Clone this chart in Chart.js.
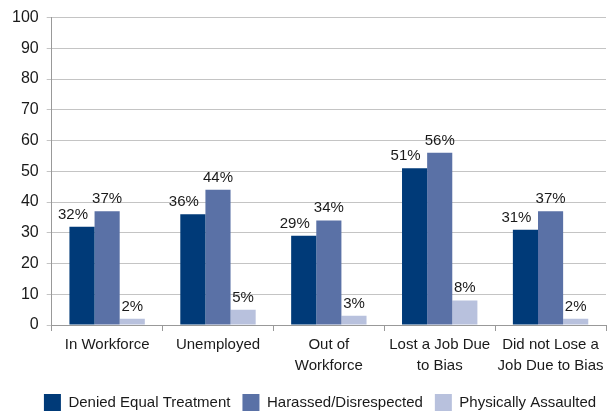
<!DOCTYPE html>
<html>
<head>
<meta charset="utf-8">
<script src="https://cdn.jsdelivr.net/npm/chart.js@4"></script>
<style>
  html, body { margin: 0; padding: 0; background: #fff; }
  #wrap { width: 613px; height: 415px; }
</style>
</head>
<body>
<div id="wrap"><canvas id="barChart"></canvas></div>
<script>
const categories = [
    'In Workforce',
    'Unemployed',
    ['Out of', 'Workforce'],
    ['Lost a Job Due', 'to Bias'],
    ['Did not Lose a', 'Job Due to Bias']
];
const deniedEqual = [32, 36, 29, 51, 31];
const harassed = [37, 44, 34, 56, 37];
const assaulted = [2, 5, 3, 8, 2];
const yTicks = [0, 10, 20, 30, 40, 50, 60, 70, 80, 90, 100];

const FONT = "'Liberation Sans', Arial, sans-serif";

// percent labels above each bar; the first series is nudged left so it doesn't crowd the next one
const valueLabels = {
    id: 'valueLabels',
    afterDatasetsDraw(chart) {
        const ctx = chart.ctx;
        ctx.save();
        ctx.font = '15px ' + FONT;
        ctx.fillStyle = '#1a1a1a';
        ctx.textAlign = 'center';
        ctx.textBaseline = 'alphabetic';
        chart.data.datasets.forEach((ds, i) => {
            const meta = chart.getDatasetMeta(i);
            meta.data.forEach((bar, j) => {
                const shift = i === 0 ? -9 : 0;
                ctx.fillText(ds.data[j] + '%', bar.x + shift, bar.y - 8);
            });
        });
        ctx.restore();
    }
};

// push the legend a little lower and to the right
const legendOffset = {
    id: 'legendOffset',
    afterLayout(chart) {
        const lg = chart.legend;
        lg.top += 6;
        lg.bottom += 6;
        lg.left += 15;
        lg.right += 15;
    }
};

const data = {
    labels: categories,
    datasets: [
        {
            label: 'Denied Equal Treatment',
            data: deniedEqual,
            backgroundColor: 'rgb(0, 58, 120)'
        },
        {
            label: 'Harassed/Disrespected',
            data: harassed,
            backgroundColor: 'rgb(90, 113, 166)'
        },
        {
            label: 'Physically Assaulted',
            data: assaulted,
            backgroundColor: 'rgb(184, 193, 221)'
        }
    ]
};

const config = {
    type: 'bar',
    data: data,
    plugins: [valueLabels, legendOffset],
    options: {
        responsive: true,
        maintainAspectRatio: false,
        animation: false,
        datasets: {
            bar: {
                categoryPercentage: 0.68,
                barPercentage: 1.0
            }
        },
        layout: {
            padding: { left: 4, right: 7, top: 8, bottom: 0 }
        },
        plugins: {
            legend: {
                position: 'bottom',
                labels: {
                    boxWidth: 17,
                    boxHeight: 17,
                    padding: 12,
                    color: '#1a1a1a',
                    font: { family: FONT, size: 15 }
                }
            },
            tooltip: { enabled: false }
        },
        scales: {
            x: {
                grid: {
                    display: true,
                    drawOnChartArea: false,
                    offset: true,
                    tickLength: 6,
                    color: '#999'
                },
                border: { color: '#999' },
                ticks: {
                    color: '#1a1a1a',
                    maxRotation: 0,
                    autoSkip: false,
                    padding: 4,
                    font: { family: FONT, size: 15, lineHeight: 1.35 }
                },
                afterFit: (axis) => {
                    axis.height = 51;
                }
            },
            y: {
                min: 0,
                max: 100,
                afterBuildTicks: (axis) => {
                    axis.ticks = yTicks.map(v => ({ value: v }));
                },
                grid: {
                    color: '#c4c4c4',
                    tickLength: 5
                },
                border: { color: '#999' },
                ticks: {
                    color: '#1a1a1a',
                    padding: 8,
                    font: { family: FONT, size: 16 }
                }
            }
        }
    }
};

window.onload = function () {
    const ctx = document.getElementById('barChart').getContext('2d');
    new Chart(ctx, config);
};
</script>
</body>
</html>
